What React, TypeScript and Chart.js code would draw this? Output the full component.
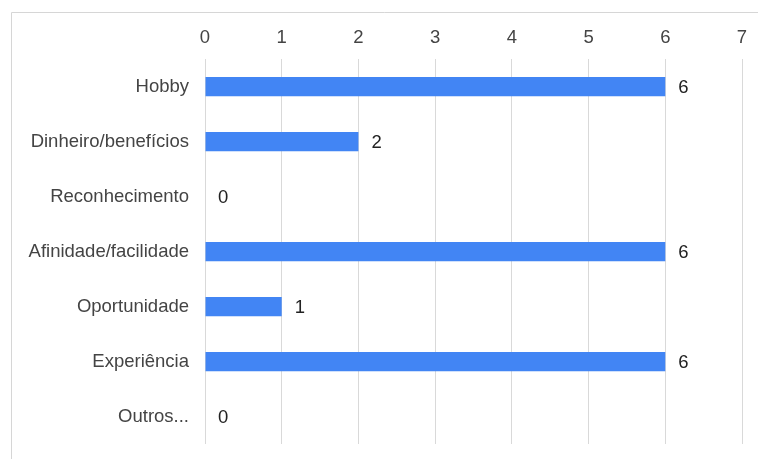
import React, { useEffect, useRef } from "react";
import { Chart, registerables } from "chart.js";

Chart.register(...registerables);

const categories = [
  "Hobby",
  "Dinheiro/benefícios",
  "Reconhecimento",
  "Afinidade/facilidade",
  "Oportunidade",
  "Experiência",
  "Outros...",
];
const values = [6, 2, 0, 6, 1, 6, 0];
const xMin = 0;
const xMax = 7;

const FONT = "'Liberation Sans', Arial, sans-serif";
const SIZE = 18.5;

const frame = {
  id: "frame",
  beforeDraw(chart: any) {
    const ctx = chart.ctx;
    ctx.save();
    ctx.strokeStyle = "#d6d6d6";
    ctx.lineWidth = 1;
    ctx.beginPath();
    ctx.moveTo(11.5, chart.height);
    ctx.lineTo(11.5, 12.5);
    ctx.lineTo(chart.width, 12.5);
    ctx.stroke();
    ctx.restore();
  },
};

const valueLabels = {
  id: "valueLabels",
  afterDatasetsDraw(chart: any) {
    const ctx = chart.ctx;
    const meta = chart.getDatasetMeta(0);
    ctx.save();
    ctx.font = `${SIZE}px ${FONT}`;
    ctx.fillStyle = "#222222";
    ctx.textAlign = "left";
    ctx.textBaseline = "middle";
    meta.data.forEach((bar: any, i: number) => {
      const v = chart.data.datasets[0].data[i];
      ctx.fillText(String(v), bar.x + 13, bar.y + 1);
    });
    ctx.restore();
  },
};

export default function App() {
  const ref = useRef<HTMLCanvasElement | null>(null);
  useEffect(() => {
    if (!ref.current) return;
    const chart = new Chart(ref.current, {
      type: "bar",
      data: {
        labels: categories,
        datasets: [
          {
            data: values,
            backgroundColor: "#4285f4",
            borderWidth: 0,
            barPercentage: 0.35,
            categoryPercentage: 1,
          },
        ],
      },
      options: {
        indexAxis: "y",
        animation: false,
        responsive: false,
        maintainAspectRatio: false,
        layout: { padding: { left: 0, right: 16, top: 0, bottom: 15 } },
        plugins: {
          legend: { display: false },
          tooltip: { enabled: false },
        },
        scales: {
          x: {
            position: "top",
            min: xMin,
            max: xMax,
            ticks: {
              stepSize: 1,
              padding: 10,
              color: "#444444",
              font: { family: FONT, size: SIZE },
            },
            grid: { color: "#d9d9d9", drawTicks: false, lineWidth: 1 },
            border: { display: false },
            afterFit(scale: any) {
              scale.height = 59;
              scale.paddingLeft = 0;
              scale.paddingRight = 0;
            },
          },
          y: {
            ticks: {
              padding: 16,
              color: "#444444",
              font: { family: FONT, size: SIZE },
            },
            grid: { display: false, drawTicks: false },
            border: { display: false },
            afterFit(scale: any) {
              scale.width = 205;
              scale.paddingTop = 0;
              scale.paddingBottom = 0;
            },
          },
        },
      },
      plugins: [frame, valueLabels],
    });
    return () => chart.destroy();
  }, []);
  return (
    <div style={{ position: "fixed", left: 0, top: 0, width: 758, height: 459, background: "#fff" }}>
      <canvas ref={ref} width={758} height={459} style={{ display: "block" }} />
    </div>
  );
}
